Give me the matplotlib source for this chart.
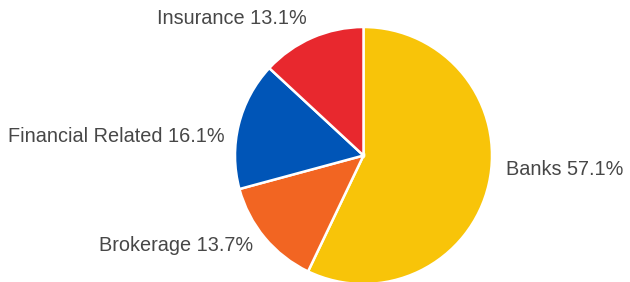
import matplotlib
matplotlib.use("Agg")
import matplotlib.pyplot as plt

# Sector data
labels = ["Banks", "Brokerage", "Financial Related", "Insurance"]
shares = [57.1, 13.7, 16.1, 13.1]
colors = ["#F8C409", "#F26522", "#0055B7", "#E8282E"]

# label anchor points (axes data units, pie radius = 1)
label_xy = [(1.11, -0.11), (-0.86, -0.70), (-1.08, 0.145), (-0.44, 1.065)]
label_ha = ["left", "right", "right", "right"]

W, H = 630, 282
cx, cy, r = 363.5, 155.5, 128.5

fig = plt.figure(figsize=(W / 100, H / 100), dpi=100)
ax = fig.add_axes([0, 0, 1, 1])

ax.pie(shares, colors=colors, startangle=90, counterclock=False,
       wedgeprops=dict(edgecolor="white", linewidth=1.8))

for lab, val, (x, y), ha in zip(labels, shares, label_xy, label_ha):
    ax.text(x, y, f"{lab} {val}%", ha=ha, va="center", fontsize=14.3,
            family="Liberation Sans", color="#474747")

ax.set_xlim(-cx / r, (W - cx) / r)
ax.set_ylim(-(H - cy) / r, cy / r)
ax.set_aspect("auto")
ax.axis("off")

fig.savefig("out.png", dpi=100)
